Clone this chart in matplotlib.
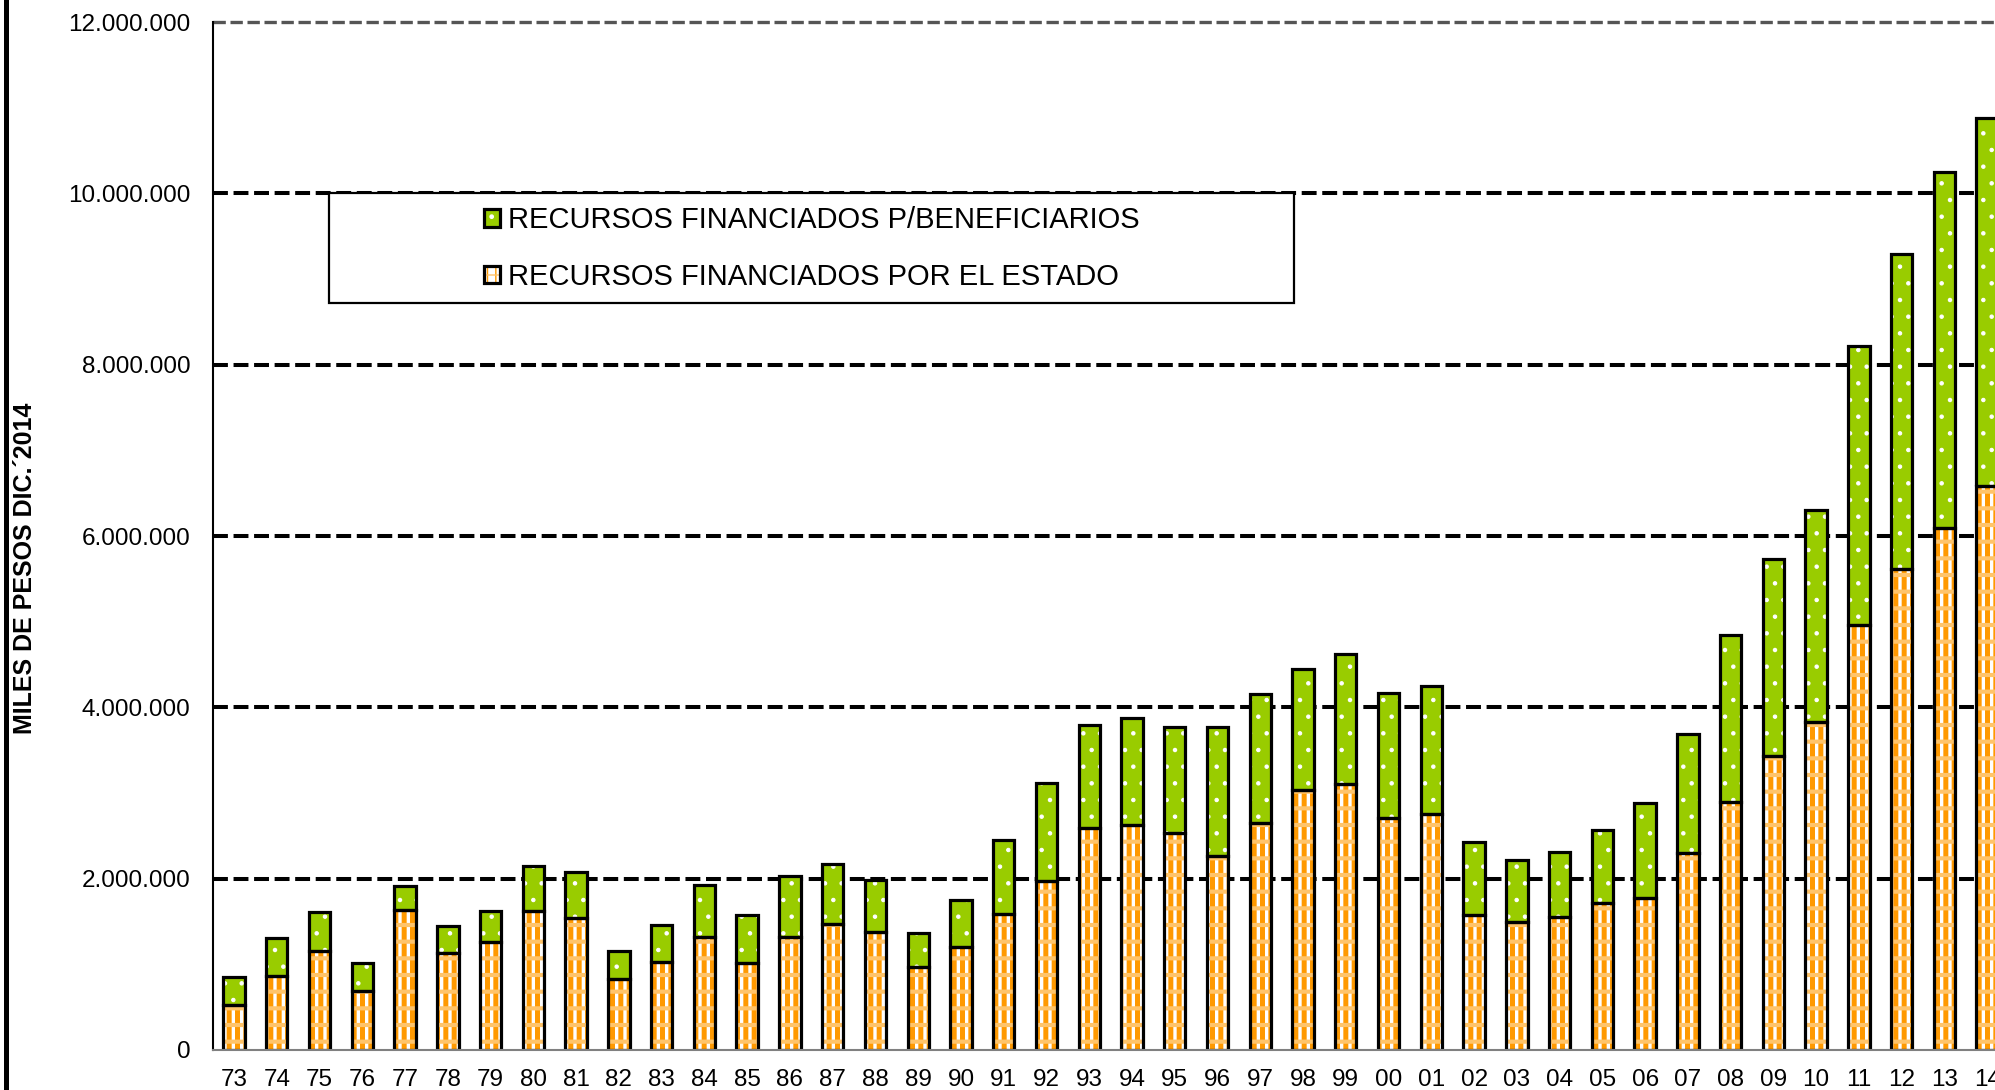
import matplotlib
matplotlib.use("Agg")
import matplotlib.pyplot as plt
import matplotlib.patches as mpatches
from matplotlib.lines import Line2D
from matplotlib.ticker import FuncFormatter
from matplotlib.legend_handler import HandlerTuple

plt.rcParams['font.family'] = ['Liberation Sans', 'DejaVu Sans']

# años (dos dígitos) 1973 - 2014
anios = ['73', '74', '75', '76', '77', '78', '79', '80', '81', '82', '83', '84', '85', '86',
         '87', '88', '89', '90', '91', '92', '93', '94', '95', '96', '97', '98', '99', '00',
         '01', '02', '03', '04', '05', '06', '07', '08', '09', '10', '11', '12', '13', '14']

# miles de pesos dic. 2014
estado = [526000, 858000, 1158000, 694000, 1630000, 1130000, 1260000, 1626000, 1536000, 826000,
          1025000, 1318000, 1010000, 1318000, 1476000, 1380000, 970000, 1200000, 1590000, 1970000,
          2590000, 2630000, 2530000, 2260000, 2650000, 3030000, 3100000, 2710000, 2760000, 1574000,
          1494000, 1547000, 1714000, 1776000, 2300000, 2900000, 3430000, 3830000, 4960000, 5620000,
          6090000, 6580000]
beneficiarios = [324000, 448000, 448000, 316000, 288000, 320000, 358000, 526000, 546000, 332000,
                 433000, 612000, 569000, 717000, 691000, 610000, 400000, 550000, 860000, 1150000,
                 1200000, 1250000, 1240000, 1510000, 1510000, 1420000, 1520000, 1460000, 1490000, 856000,
                 726000, 763000, 856000, 1104000, 1390000, 1940000, 2300000, 2470000, 3260000, 3670000,
                 4160000, 4300000]

y_ticks = [0, 2000000, 4000000, 6000000, 8000000, 10000000, 12000000]

lbl_benef = 'RECURSOS FINANCIADOS P/BENEFICIARIOS'
lbl_estado = 'RECURSOS FINANCIADOS POR EL ESTADO'

verde = '#99CC00'
naranja = '#FF9900'
naranja_claro = '#FFC46A'

fig = plt.figure(figsize=(19.95, 10.9), dpi=100)
ax = fig.add_axes([0.1066, 0.0367, 0.9002, 0.9431])

x = list(range(len(anios)))
ancho = 0.5
ax.set_xlim(-0.5, 41.5)
ax.set_ylim(0, 12000000)

# lineas de grilla punteadas
for v in y_ticks[1:-1]:
    ax.axhline(v, color='black', lw=2.9, ls=(0, (3.7, 1.4)), zorder=1)
ax.axhline(12000000, color='#555555', lw=2.4, ls=(0, (3.7, 1.4)), zorder=1, clip_on=False)

# barras del estado (cuadriculado naranja)
with plt.rc_context({'hatch.linewidth': 3.6}):
    b1 = ax.bar(x, estado, ancho, color='white', edgecolor=naranja, hatch='||', lw=0, zorder=2)
with plt.rc_context({'hatch.linewidth': 3.0}):
    b2 = ax.bar(x, estado, ancho, color='none', edgecolor=naranja_claro, hatch='-', lw=0, zorder=2.1)
b3 = ax.bar(x, estado, ancho, color='none', edgecolor='black', lw=2.3, zorder=2.2)

# barras de beneficiarios (verde con puntos)
with plt.rc_context({'hatch.linewidth': 0.8}):
    g1 = ax.bar(x, beneficiarios, ancho, bottom=estado, color=verde, edgecolor='white',
                hatch='.', lw=0, zorder=2)
g2 = ax.bar(x, beneficiarios, ancho, bottom=estado, color='none', edgecolor='black',
            lw=2.3, zorder=2.2)

ax.set_xticks(x)
ax.set_xticklabels(anios)
ax.set_yticks(y_ticks)
ax.yaxis.set_major_formatter(FuncFormatter(lambda v, p: f"{int(v):,}".replace(",", ".")))
ax.tick_params(axis='both', length=0, labelsize=17.5)
ax.tick_params(axis='y', pad=16)
ax.tick_params(axis='x', pad=14)

ax.spines['right'].set_visible(False)
ax.spines['left'].set_color('black')
ax.spines['left'].set_linewidth(1.5)
ax.spines['bottom'].set_color('#808080')
ax.spines['bottom'].set_linewidth(1.5)
ax.spines['top'].set_visible(False)

# recuadro de la leyenda
caja = mpatches.Rectangle((2.23, 8715000), 22.56, 1285000, facecolor='white',
                          edgecolor='black', lw=1.6, zorder=3)
ax.add_patch(caja)

h_verde = (g1.patches[0], g2.patches[0])
h_naranja = (b1.patches[0], b2.patches[0], b3.patches[0])
leg = ax.legend([h_verde, h_naranja], [lbl_benef, lbl_estado],
                handler_map={tuple: HandlerTuple(ndivide=1, pad=0)},
                loc='center', bbox_to_anchor=(13.51, 9357500), bbox_transform=ax.transData,
                frameon=False, fontsize=21, handlelength=0.55, handleheight=0.55,
                handletextpad=0.25, labelspacing=0.98, borderpad=0)
leg.set_zorder(4)

fig.text(25 / 1995, 1 - 568 / 1090, 'MILES DE PESOS DIC.´2014', rotation=90,
         fontsize=18, fontweight='bold', ha='center', va='center')

# borde grueso a la izquierda
fig.add_artist(Line2D([0.0028, 0.0028], [0, 1], color='black', lw=3.6, transform=fig.transFigure))

fig.savefig('out.png', dpi=100)
